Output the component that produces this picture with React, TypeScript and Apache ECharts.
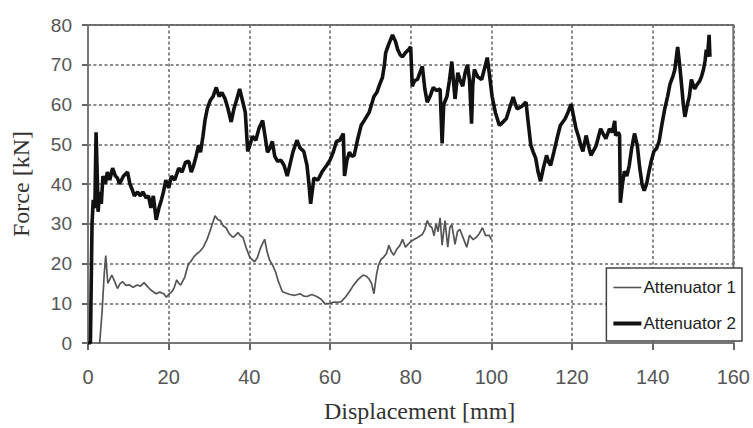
import React, { useEffect, useRef } from "react";
import * as echarts from "echarts";

const xTicks = [0, 20, 40, 60, 80, 100, 120, 140, 160];
const yTicks = [0, 10, 20, 30, 40, 50, 60, 70, 80];
const seriesNames = ["Attenuator 1", "Attenuator 2"];

const attenuator1: [number, number][] = [
  [2.5, 0], [2.9, 0], [3.5, 8], [4.0, 17], [4.4, 22], [4.9, 15], [5.4, 16], [5.9, 17.1], [6.6, 15.5], [7.3, 13.7],
  [8.0, 15], [8.6, 15.4], [9.4, 14.5], [10.3, 14.6], [11.2, 14], [12.2, 14.6], [13.0, 14.3], [13.9, 15.2], [14.5, 14.5],
  [15.2, 13.7], [16.0, 13], [16.9, 12.4], [17.8, 12.8], [18.8, 12.4], [19.4, 11.5], [20.0, 12.2], [20.8, 12.9], [21.4, 14],
  [22.0, 15.9], [22.5, 15], [23.0, 14.6], [24.0, 16.6], [24.5, 18.5], [24.9, 19.9], [25.5, 20.5], [26.2, 21.6], [26.9, 22.4],
  [27.7, 23], [28.6, 24.1], [29.5, 26], [30.3, 28.3], [31.0, 30.5], [31.5, 32], [32.2, 31], [32.8, 30.8], [33.5, 29.5],
  [34.2, 29], [35.0, 27.5], [35.9, 26.6], [36.5, 27], [37.2, 27.8], [37.8, 27], [38.4, 26.6], [39.2, 24], [40.1, 21.6],
  [40.7, 21], [41.3, 20.4], [42.0, 21.5], [42.8, 24], [43.8, 26.1], [44.4, 23], [45.0, 20.9], [45.8, 19.5], [46.5, 17.9],
  [47.2, 15.5], [48.2, 12.9], [49.2, 12.5], [50.1, 12.2], [51.3, 12], [52.6, 12.4], [53.5, 11.8], [54.3, 11.7], [55.5, 12.2],
  [56.7, 11.7], [57.8, 11], [58.7, 9.9], [59.9, 9.9], [61.0, 10.3], [62.0, 10.2], [62.8, 10.4], [63.8, 11.5], [64.8, 12.9],
  [65.8, 14.5], [67.0, 16], [68.2, 17.1], [69.0, 16.8], [69.7, 16.1], [70.3, 15], [70.9, 12.4], [71.5, 17], [72.0, 19.5],
  [72.6, 20.9], [73.3, 21.6], [74.0, 22.5], [74.6, 24.6], [75.2, 23], [75.8, 22.1], [76.5, 23.5], [77.3, 24.5], [78.0, 26.1],
  [78.7, 24.1], [79.5, 25], [80.4, 25.8], [81.6, 26.5], [82.9, 27.3], [83.5, 28.5], [84.1, 30.8], [84.7, 29.5], [85.3, 29],
  [85.8, 27], [86.3, 30], [86.8, 28], [87.3, 31.5], [87.8, 24.6], [88.5, 30.8], [89.2, 24.1], [89.7, 29], [90.2, 29.8],
  [91.0, 24.8], [91.6, 28], [92.2, 28.6], [93.0, 26.5], [93.9, 24.1], [94.6, 27.1], [95.5, 26], [96.3, 26.6], [97.0, 27.5],
  [97.8, 29], [98.6, 27], [99.5, 27.1], [100.0, 26],
];

const attenuator2: [number, number][] = [
  [0, 0], [0.6, 0], [1.0, 30], [1.3, 36], [1.7, 34], [2.0, 53], [2.3, 42], [2.5, 33], [2.9, 38], [3.3, 35], [3.7, 42],
  [4.3, 40], [4.8, 43], [5.4, 41], [6.1, 44], [6.8, 42], [7.3, 41.5], [7.8, 40], [8.3, 41], [8.8, 42], [9.8, 43], [10.4, 40],
  [11.0, 38.5], [11.5, 37], [12.3, 38], [13.0, 37], [13.6, 38], [14.4, 36.5], [15.0, 37], [15.6, 34], [16.2, 37], [16.9, 31],
  [17.6, 34], [18.2, 36], [18.7, 38], [19.3, 41], [20.0, 39], [20.7, 42], [21.5, 41], [22.5, 44], [23.3, 43], [24.2, 45.5],
  [25.0, 45.7], [25.6, 43], [26.2, 44.7], [26.8, 47], [27.4, 49.7], [27.9, 48], [28.5, 52], [29.0, 56], [29.6, 59], [30.3, 61],
  [31.0, 62], [31.8, 64.3], [32.5, 62], [33.2, 63], [34.0, 61.4], [34.7, 59], [35.5, 55.6], [36.2, 59], [36.8, 61], [37.6, 63.9],
  [38.3, 61], [39.0, 58], [39.6, 48.2], [40.2, 50], [40.8, 52], [41.6, 51], [42.4, 54], [43.3, 56], [43.9, 52], [44.5, 48],
  [45.1, 49], [45.7, 50.7], [46.3, 47], [47.0, 45.7], [47.8, 46], [48.6, 44.7], [49.4, 42], [50.1, 45], [50.8, 48], [51.8, 51],
  [52.6, 49], [53.5, 48.2], [54.3, 44.7], [54.8, 39.8], [55.2, 35], [55.7, 39], [56.0, 41.5], [57.0, 41], [58.0, 43], [59.2, 44.7],
  [60.0, 46], [60.8, 48], [61.6, 50.7], [62.4, 51], [63.3, 52.7], [63.6, 42], [64.2, 46], [64.8, 48], [65.4, 47], [66.0, 47.2],
  [66.8, 51], [67.7, 54.7], [68.5, 56], [69.7, 58], [70.3, 60], [70.9, 62], [71.6, 63], [72.3, 65], [73.0, 66.8], [73.5, 70],
  [73.8, 73], [74.5, 75], [75.5, 77.5], [76.2, 76], [76.8, 73.8], [77.4, 72.5], [78.0, 72], [78.7, 73], [79.5, 73.8], [80.0, 74.5],
  [80.4, 64.6], [81.0, 66], [81.7, 66.3], [82.3, 68], [82.9, 69.6], [83.5, 64], [84.1, 60.6], [84.8, 62], [85.6, 64.3], [86.4, 63.5],
  [87.3, 63.9], [87.8, 50.2], [88.2, 60], [89.0, 62], [89.6, 66], [90.2, 70.8], [90.6, 66], [91.0, 61.4], [91.7, 68], [92.3, 66],
  [92.9, 64.6], [93.5, 68], [94.1, 70], [94.6, 66], [95.1, 55.2], [95.4, 65], [95.8, 68.8], [96.6, 67], [97.6, 66.3], [98.3, 69],
  [99.0, 71.8], [99.6, 67], [100.2, 62], [101.0, 58], [102.0, 54.7], [102.8, 55.5], [103.7, 56.4], [104.5, 59], [105.4, 61.9],
  [106.0, 60], [106.4, 58.9], [107.5, 59.5], [108.6, 60.6], [109.2, 55], [109.8, 49.7], [110.4, 48], [111.0, 46.5], [111.6, 43],
  [112.2, 40.7], [112.9, 44], [113.7, 47.2], [114.2, 45.5], [114.7, 44.7], [115.5, 48], [116.3, 51.5], [117.1, 54.7], [118.3, 56.4],
  [119.0, 58], [119.8, 60.1], [120.4, 57], [121.0, 53.9], [121.6, 52], [122.2, 49.7], [122.7, 48.2], [123.5, 52.2], [124.0, 50],
  [124.7, 47.2], [125.4, 48.5], [126.0, 49.7], [126.6, 52], [127.1, 53.9], [127.8, 52.5], [128.4, 51.4], [129.3, 53.9], [130.0, 53],
  [130.6, 55.9], [130.8, 52.2], [131.5, 53], [131.8, 52.2], [132.0, 35.3], [132.5, 40], [133.0, 43.2], [133.6, 42], [134.2, 44.7],
  [134.8, 49], [135.5, 52.7], [136.2, 49.7], [136.8, 44], [137.4, 39.8], [137.9, 38.3], [138.5, 40], [139.1, 43.2], [139.7, 46],
  [140.3, 48.2], [141.0, 49], [141.6, 50.7], [142.3, 55], [143.0, 58.9], [143.7, 62], [144.3, 65.1], [145.0, 67], [145.5, 68.8],
  [146.2, 74.5], [146.7, 70], [147.2, 64.6], [147.6, 60], [148.0, 56.9], [148.6, 60], [149.1, 62], [149.6, 66.3], [150.4, 63.9],
  [151.0, 65], [151.6, 65.8], [152.1, 67], [152.6, 68.8], [153.0, 71], [153.3, 73.8], [153.6, 72], [154.0, 77.5], [154.2, 72],
];

const sans = '"Liberation Sans", Arial, sans-serif';
const serif = '"Liberation Serif", "Times New Roman", serif';

export default function App() {
  const ref = useRef<HTMLDivElement>(null);
  useEffect(() => {
    if (!ref.current) return;
    const chart = echarts.init(ref.current, undefined, { renderer: "svg" });
    chart.setOption({
      animation: false,
      backgroundColor: "#ffffff",
      grid: {
        left: 88, right: 11, top: 25, bottom: 81,
        show: true, borderColor: "#777", borderWidth: 2, backgroundColor: "transparent",
      },
      legend: {
        right: 11, top: 268,
        orient: "vertical",
        backgroundColor: "#ffffff",
        borderColor: "#444",
        borderWidth: 1.5,
        borderRadius: 0,
        padding: [11, 6, 9, 7],
        itemGap: 19,
        itemWidth: 28,
        itemHeight: 18,
        symbolKeepAspect: true,
        textStyle: { fontFamily: sans, fontSize: 17, color: "#222", padding: [0, 0, 0, -3] },
        data: [
          { name: seriesNames[0], icon: "path://M0 0H28V1.6H0Z" },
          { name: seriesNames[1], icon: "path://M0 0H28V4H0Z" },
        ],
      },
      xAxis: {
        type: "value",
        min: xTicks[0], max: xTicks[xTicks.length - 1], interval: 20,
        name: "Displacement [mm]",
        nameLocation: "middle",
        nameGap: 56,
        nameTextStyle: { fontFamily: serif, fontSize: 24, color: "#333", padding: [0, 0, 0, 18] },
        axisLine: { show: true, lineStyle: { color: "#777", width: 2 } },
        axisTick: { show: true, length: 7, lineStyle: { color: "#666", width: 2 } },
        axisLabel: { fontFamily: sans, fontSize: 20, color: "#555", margin: 24 },
        splitLine: { show: true, lineStyle: { color: "#666", width: 1.5, type: [3, 2.5] } },
      },
      yAxis: {
        type: "value",
        min: yTicks[0], max: yTicks[yTicks.length - 1], interval: 10,
        name: "Force [kN]",
        nameLocation: "middle",
        nameGap: 55,
        nameTextStyle: { fontFamily: serif, fontSize: 24, color: "#333" },
        axisLine: { show: true, lineStyle: { color: "#777", width: 2 } },
        axisTick: { show: true, length: 6, lineStyle: { color: "#666", width: 2 } },
        axisLabel: { fontFamily: sans, fontSize: 19, color: "#555", margin: 16 },
        splitLine: { show: true, lineStyle: { color: "#666", width: 1.5, type: [3, 2.5] } },
      },
      series: [
        {
          name: seriesNames[0],
          type: "line",
          data: attenuator1,
          symbol: "none",
          showSymbol: false,
          lineStyle: { color: "#555", width: 1.7 },
          itemStyle: { color: "#555" },
          z: 3,
        },
        {
          name: seriesNames[1],
          type: "line",
          data: attenuator2,
          symbol: "none",
          showSymbol: false,
          lineStyle: { color: "#111", width: 3.6 },
          itemStyle: { color: "#111" },
          z: 4,
        },
      ],
    });
    return () => chart.dispose();
  }, []);
  return (
    <div
      ref={ref}
      style={{ position: "fixed", left: 0, top: 0, width: 753, height: 428, background: "#fff" }}
    />
  );
}
